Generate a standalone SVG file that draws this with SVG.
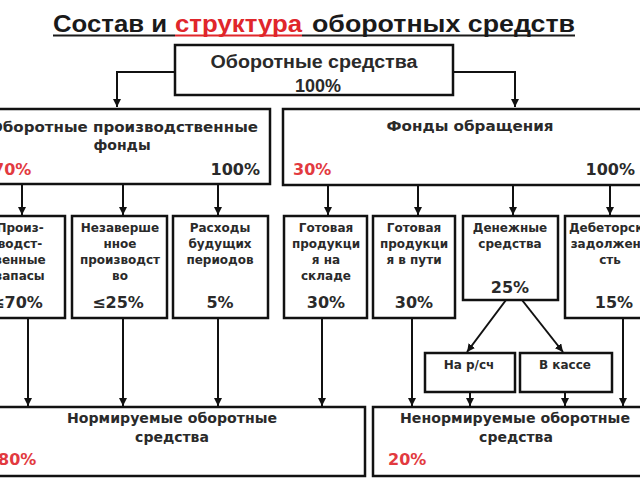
<svg xmlns="http://www.w3.org/2000/svg" width="640" height="480" viewBox="0 0 640 480">
<defs>
<marker id="ah" viewBox="0 0 10 10" refX="10" refY="5" markerWidth="8" markerHeight="8" orient="auto" markerUnits="userSpaceOnUse"><path d="M0,0 L10,5 L0,10 z" fill="#111"/></marker>
<style>
.box{fill:#fff;stroke:#111;stroke-width:2.5}
.ln{fill:none;stroke:#111;stroke-width:2;marker-end:url(#ah)}
.t{font-family:"DejaVu Sans",Verdana,sans-serif;font-weight:bold;fill:#2a2a2a;text-anchor:middle}
.h{font-size:14px}
.s{font-size:12px}
.p{font-size:16px}
.r{fill:#e23a3f}
.st{text-anchor:start}
.en{text-anchor:end}
.ttl{font-family:"Liberation Sans",Arial,sans-serif;font-weight:bold;font-size:24px}
</style>
</defs>
<rect width="640" height="480" fill="#fff"/>
<g id="title">
<text class="ttl" x="53" y="32" textLength="114" lengthAdjust="spacingAndGlyphs" fill="#1a1a1a">Состав и</text>
<text class="ttl" x="175" y="32" textLength="127" lengthAdjust="spacingAndGlyphs" fill="#e0262b">структура</text>
<text class="ttl" x="312" y="32" textLength="263" lengthAdjust="spacingAndGlyphs" fill="#1a1a1a">оборотных средств</text>
<line x1="53" y1="35.5" x2="175" y2="35.5" stroke="#1a1a1a" stroke-width="2"/>
<line x1="175" y1="35.5" x2="302" y2="35.5" stroke="#e0262b" stroke-width="2"/>
<line x1="302" y1="35.5" x2="575" y2="35.5" stroke="#1a1a1a" stroke-width="2"/>
</g>
<g id="connectors">
<path class="ln" d="M175,72 H117 V107"/>
<path class="ln" d="M453,72 H515 V107"/>
<path class="ln" d="M22,184 V215"/>
<path class="ln" d="M123,184 V215"/>
<path class="ln" d="M218,184 V215"/>
<path class="ln" d="M328,185 V215"/>
<path class="ln" d="M418,185 V215"/>
<path class="ln" d="M513,185 V215"/>
<path class="ln" d="M610,185 V215"/>
<path class="ln" d="M28,318 V406"/>
<path class="ln" d="M123,318 V406"/>
<path class="ln" d="M218,318 V406"/>
<path class="ln" d="M322,318 V406"/>
<path class="ln" d="M412,318 V406"/>
<path class="ln" d="M623,318 V406"/>
<path class="ln" d="M506,300 L467,352"/>
<path class="ln" d="M522,300 L563,352"/>
<path class="ln" d="M470,392 V406"/>
<path class="ln" d="M565,392 V406"/>
</g>
<g id="n-total">
<rect class="box" x="175" y="45" width="278" height="50"/>
<text class="t" x="314" y="68" font-family="Liberation Sans" style="font-family:'Liberation Sans',Arial,sans-serif;font-size:18px" textLength="207" lengthAdjust="spacingAndGlyphs">Оборотные средства</text>
<text class="t" x="318" y="92" style="font-family:'Liberation Sans',Arial,sans-serif;font-size:18px">100%</text>
</g>
<g id="n-prod">
<rect class="box" x="-10" y="109" width="280" height="75"/>
<text class="t h" x="124" y="132" textLength="268" lengthAdjust="spacingAndGlyphs">Оборотные производственные</text>
<text class="t h" x="122" y="150">фонды</text>
<text class="t p r st" x="-7" y="175">70%</text>
<text class="t p en" x="260" y="175">100%</text>
</g>
<g id="n-circ">
<rect class="box" x="283" y="109" width="362" height="76"/>
<text class="t h" x="470" y="131" textLength="167" lengthAdjust="spacingAndGlyphs">Фонды обращения</text>
<text class="t p r st" x="293" y="175">30%</text>
<text class="t p en" x="635" y="175">100%</text>
</g>
<g id="n-zapasy">
<rect class="box" x="-20" y="216" width="85" height="102"/>
<text class="t s" x="20" y="232">Произ-</text>
<text class="t s" x="20" y="248">водст-</text>
<text class="t s" x="20" y="264">венные</text>
<text class="t s" x="20" y="280">запасы</text>
<text class="t p" x="17" y="308">≤70%</text>
</g>
<g id="n-nezav">
<rect class="box" x="72" y="216" width="95" height="102"/>
<text class="t s" x="120" y="232">Незаверше</text>
<text class="t s" x="120" y="248">нное</text>
<text class="t s" x="120" y="264">производст</text>
<text class="t s" x="120" y="280">во</text>
<text class="t p" x="118" y="308">≤25%</text>
</g>
<g id="n-rashody">
<rect class="box" x="173" y="216" width="95" height="102"/>
<text class="t s" x="220" y="232">Расходы</text>
<text class="t s" x="220" y="248">будущих</text>
<text class="t s" x="220" y="264">периодов</text>
<text class="t p" x="220" y="308">5%</text>
</g>
<g id="n-sklad">
<rect class="box" x="284" y="216" width="83" height="102"/>
<text class="t s" x="326" y="232">Готовая</text>
<text class="t s" x="326" y="248">продукци</text>
<text class="t s" x="326" y="264">я на</text>
<text class="t s" x="326" y="280">складе</text>
<text class="t p" x="326" y="308">30%</text>
</g>
<g id="n-put">
<rect class="box" x="373" y="216" width="82" height="102"/>
<text class="t s" x="414" y="232">Готовая</text>
<text class="t s" x="414" y="248">продукци</text>
<text class="t s" x="414" y="264">я в пути</text>
<text class="t p" x="414" y="308">30%</text>
</g>
<g id="n-den">
<rect class="box" x="463" y="216" width="95" height="84"/>
<text class="t s" x="510" y="232">Денежные</text>
<text class="t s" x="510" y="248">средства</text>
<text class="t p" x="510" y="293">25%</text>
</g>
<g id="n-deb">
<rect class="box" x="565" y="216" width="90" height="102"/>
<text class="t s" x="614" y="232">Дебеторская</text>
<text class="t s" x="614" y="248">задолженно</text>
<text class="t s" x="610" y="264">сть</text>
<text class="t p" x="614" y="308">15%</text>
</g>
<g id="n-rs">
<rect class="box" x="425" y="353" width="90" height="39"/>
<text class="t s" x="469" y="369">На р/сч</text>
</g>
<g id="n-kassa">
<rect class="box" x="520" y="353" width="92" height="39"/>
<text class="t s" x="565" y="369">В кассе</text>
</g>
<g id="n-norm">
<rect class="box" x="-10" y="407" width="375" height="69"/>
<text class="t h" x="172" y="423" textLength="210" lengthAdjust="spacingAndGlyphs">Нормируемые оборотные</text>
<text class="t h" x="172" y="442">средства</text>
<text class="t p r st" x="-2" y="465">80%</text>
</g>
<g id="n-nenorm">
<rect class="box" x="373" y="407" width="275" height="69"/>
<text class="t h" x="515" y="423" textLength="230" lengthAdjust="spacingAndGlyphs">Ненормируемые оборотные</text>
<text class="t h" x="516" y="442">средства</text>
<text class="t p r st" x="388" y="465">20%</text>
</g>
</svg>
